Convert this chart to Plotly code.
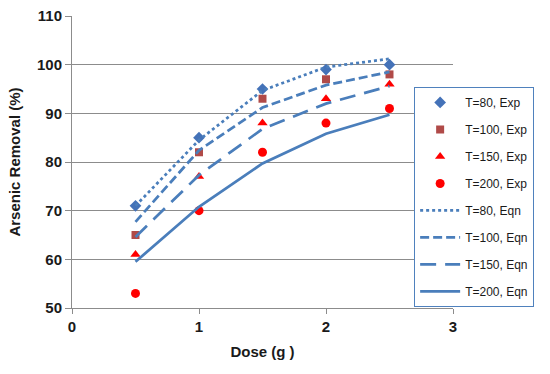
import plotly.graph_objects as go

dose = [0.5, 1, 1.5, 2, 2.5]

exp_t80 = [71, 85, 95, 99, 100]
exp_t100 = [65, 82, 93, 97, 98]
exp_t150 = [61, 77, 88, 93, 96]
exp_t200 = [53, 70, 82, 88, 91]

eqn_t80 = [71.0, 84.5, 94.7, 99.5, 101.2]
eqn_t100 = [67.7, 82.4, 91.2, 95.8, 98.5]
eqn_t150 = [64.6, 77.3, 86.8, 92.0, 95.6]
eqn_t200 = [59.5, 70.8, 79.7, 85.8, 89.7]

line_color = "#4a7ebb"

fig = go.Figure()

markers = [
    ("T=80, Exp", exp_t80, "diamond", "#4472b8", 9),
    ("T=100, Exp", exp_t100, "square", "#b04a48", 8),
    ("T=150, Exp", exp_t150, "triangle-up", "#ff0000", 9),
    ("T=200, Exp", exp_t200, "circle", "#ff0000", 9),
]
for i, (name, ys, sym, col, sz) in enumerate(markers):
    fig.add_trace(go.Scatter(x=dose, y=ys, mode="markers", name=name,
                             legendgroup=f"g{i}",
                             marker=dict(symbol=sym, color=col, size=sz)))

lines = [
    ("T=80, Eqn", eqn_t80, "3px,3px"),
    ("T=100, Eqn", eqn_t100, "9px,4px"),
    ("T=150, Eqn", eqn_t150, "16px,9px"),
    ("T=200, Eqn", eqn_t200, "solid"),
]
for i, (name, ys, dash) in enumerate(lines):
    fig.add_trace(go.Scatter(x=dose, y=ys, mode="lines", name=name,
                             legendgroup=f"h{i}",
                             line=dict(color=line_color, width=2.75, dash=dash)))

font_family = "Liberation Sans, Arial, sans-serif"

fig.update_layout(
    width=550, height=374,
    margin=dict(l=72, r=97, t=16, b=66, autoexpand=False),
    paper_bgcolor="white", plot_bgcolor="white",
    font=dict(family=font_family, color="#1a1a1a"),
    showlegend=True,
    legend=dict(
        x=0.898, y=0.757, xanchor="left", yanchor="top",
        bordercolor="#4f81bd", borderwidth=1, bgcolor="white",
        font=dict(size=12, color="#1a1a1a"),
        traceorder="grouped", tracegroupgap=8,
        itemwidth=40,
    ),
    xaxis=dict(
        range=[0, 3], tickvals=[0, 1, 2, 3], ticktext=["0", "1", "2", "3"],
        showgrid=False, zeroline=False, automargin=False,
        showline=True, linecolor="#8c8c8c", linewidth=1,
        ticks="outside", ticklen=5, tickcolor="#8c8c8c",
        tickfont=dict(size=15, family=font_family, weight="bold", color="#1a1a1a"),
        title=dict(text="<b>Dose (g )</b>", font=dict(size=15), standoff=12),
    ),
    yaxis=dict(
        range=[50, 110], tickvals=[50, 60, 70, 80, 90, 100, 110],
        showgrid=True, gridcolor="#8c8c8c", gridwidth=1, zeroline=False, automargin=False,
        showline=True, linecolor="#8c8c8c", linewidth=1,
        ticks="outside", ticklen=6, tickcolor="#8c8c8c",
        tickfont=dict(size=15, family=font_family, weight="bold", color="#1a1a1a"),
        title=dict(text="<b>Arsenic Removal (%)</b>", font=dict(size=15), standoff=12),
    ),
)

fig.write_html("out.html",
               config={"displayModeBar": False},
               post_script="document.body.style.margin='0';document.body.style.overflow='hidden';")
